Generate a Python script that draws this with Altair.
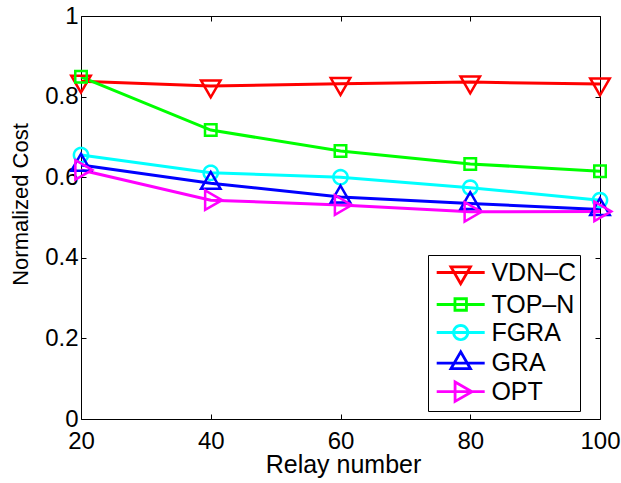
import math
import altair as alt
import pandas as pd

# ---- data ----
relay = [20, 40, 60, 80, 100]
series_names = ["VDN–C", "TOP–N", "FGRA", "GRA", "OPT"]
vdn_c = [0.838, 0.826, 0.832, 0.836, 0.831]
top_n = [0.849, 0.717, 0.665, 0.633, 0.615]
fgra = [0.655, 0.611, 0.600, 0.574, 0.543]
gra = [0.630, 0.585, 0.551, 0.535, 0.520]
opt = [0.618, 0.543, 0.531, 0.514, 0.515]
x_ticks = [20, 40, 60, 80, 100]
y_ticks = [0, 0.2, 0.4, 0.6, 0.8, 1]
colors = ["#ff0000", "#00ff00", "#00ffff", "#0000ff", "#ff00ff"]

values = [vdn_c, top_n, fgra, gra, opt]
df = pd.DataFrame({
    "relay": [r for _ in series_names for r in relay],
    "cost": [v for vals in values for v in vals],
    "series": [n for n in series_names for _ in relay],
})

FONT = "Liberation Sans"


# ---- marker shapes (style) ----
def f(v):
    return f"{v:.4f}"


def tri_down(cx, r):
    return f"M{f(cx)},{f(r)}L{f(cx-0.866*r)},{f(-0.5*r)}L{f(cx+0.866*r)},{f(-0.5*r)}Z"


def tri_up(cx, r):
    return f"M{f(cx)},{f(-r)}L{f(cx-0.866*r)},{f(0.5*r)}L{f(cx+0.866*r)},{f(0.5*r)}Z"


def tri_right(cx, r):
    return f"M{f(cx+r)},0L{f(cx-0.5*r)},{f(-0.866*r)}L{f(cx-0.5*r)},{f(0.866*r)}Z"


def square(cx, h):
    return f"M{f(cx-h)},{f(-h)}L{f(cx+h)},{f(-h)}L{f(cx+h)},{f(h)}L{f(cx-h)},{f(h)}Z"


def circle(cx, r, n=28):
    pts = [(cx + r * math.cos(2 * math.pi * k / n), r * math.sin(2 * math.pi * k / n))
           for k in range(n)]
    return "M" + "L".join(f"{f(px)},{f(py)}" for px, py in pts) + "Z"


def marker_set(cx, tri, sq, circ):
    return [tri_down(cx, tri), square(cx, sq), circle(cx, circ),
            tri_up(cx, tri), tri_right(cx, tri)]


plot_paths = marker_set(0, 0.9, 0.46, 0.57)

# legend symbols: line segment + marker (unit = 13 px)
lead = "M-0.677,0L3.015,0"
legend_paths = [lead + p for p in marker_set(1.169, 0.865, 0.442, 0.546)]

x_scale = alt.Scale(domain=[20, 100], nice=False, zero=False)
y_scale = alt.Scale(domain=[0, 1], nice=False, zero=False)

x_axis = alt.Axis(values=x_ticks, labelPadding=10, labelFlush=False,
                  title="Relay number",
                  titleFontSize=25, titleX=262, titleY=58,
                  titleBaseline="alphabetic", titleAlign="center")
y_axis = alt.Axis(values=y_ticks, format="~g", labelPadding=3, labelFlush=False,
                  title="Normalized Cost", titleFontSize=22, titleAngle=270,
                  titleX=-59, titleY=188, titleBaseline="alphabetic",
                  titleAlign="center")

base = alt.Chart(df)

lines = base.mark_line(strokeWidth=3).encode(
    x=alt.X("relay:Q", scale=x_scale, axis=x_axis),
    y=alt.Y("cost:Q", scale=y_scale, axis=y_axis),
    color=alt.Color("series:N", scale=alt.Scale(domain=series_names, range=colors), legend=None),
)

points = base.mark_point(filled=False, size=625, strokeWidth=2.5, opacity=1).encode(
    x=alt.X("relay:Q", scale=x_scale, axis=None),
    y=alt.Y("cost:Q", scale=y_scale, axis=None),
    color=alt.Color("series:N", scale=alt.Scale(domain=series_names, range=colors), legend=None),
    shape=alt.Shape("series:N", scale=alt.Scale(domain=series_names, range=plot_paths), legend=None),
)

legend_layer = base.transform_calculate(lg="datum.series").transform_filter("false").mark_point(
    filled=False, opacity=1, strokeWidth=2.8
).encode(
    color=alt.Color("lg:N", scale=alt.Scale(domain=series_names, range=colors),
                    legend=alt.Legend(title=None)),
    shape=alt.Shape("lg:N", scale=alt.Scale(domain=series_names, range=legend_paths),
                    legend=alt.Legend(title=None)),
)

frame_ticks = base.transform_filter("false").mark_point(opacity=0).encode(
    x=alt.X("relay:Q", scale=x_scale,
            axis=alt.Axis(orient="top", values=x_ticks, labels=False, title=None)),
    y=alt.Y("cost:Q", scale=y_scale,
            axis=alt.Axis(orient="right", values=y_ticks, labels=False, title=None)),
)

chart = alt.layer(lines, points, legend_layer, frame_ticks).resolve_scale(
    color="independent", shape="independent"
).resolve_axis(
    x="independent", y="independent"
).properties(
    width=519, height=403,
    padding={"left": 81, "top": 16, "right": 21, "bottom": 64},
    autosize=alt.AutoSizeParams(type="none"),
    background="white",
).configure_view(
    stroke="black", strokeWidth=1
).configure_axis(
    domain=False, grid=False, tickSize=5, offset=-5, tickColor="black", tickWidth=1,
    labelColor="black", labelFont=FONT, labelFontSize=24,
    titleFont=FONT, titleColor="black", titleFontWeight="normal",
).configure_legend(
    orient="none", legendX=347, legendY=239, padding=3,
    strokeColor="black", fillColor="white",
    labelFont=FONT, labelFontSize=25, labelColor="black", labelLimit=160,
    symbolSize=676, symbolStrokeWidth=2.8, symbolFillColor="transparent",
    labelOffset=31.4, rowPadding=-0.4,
)

chart.save("out.html", embed_options={"renderer": "svg", "actions": False})
